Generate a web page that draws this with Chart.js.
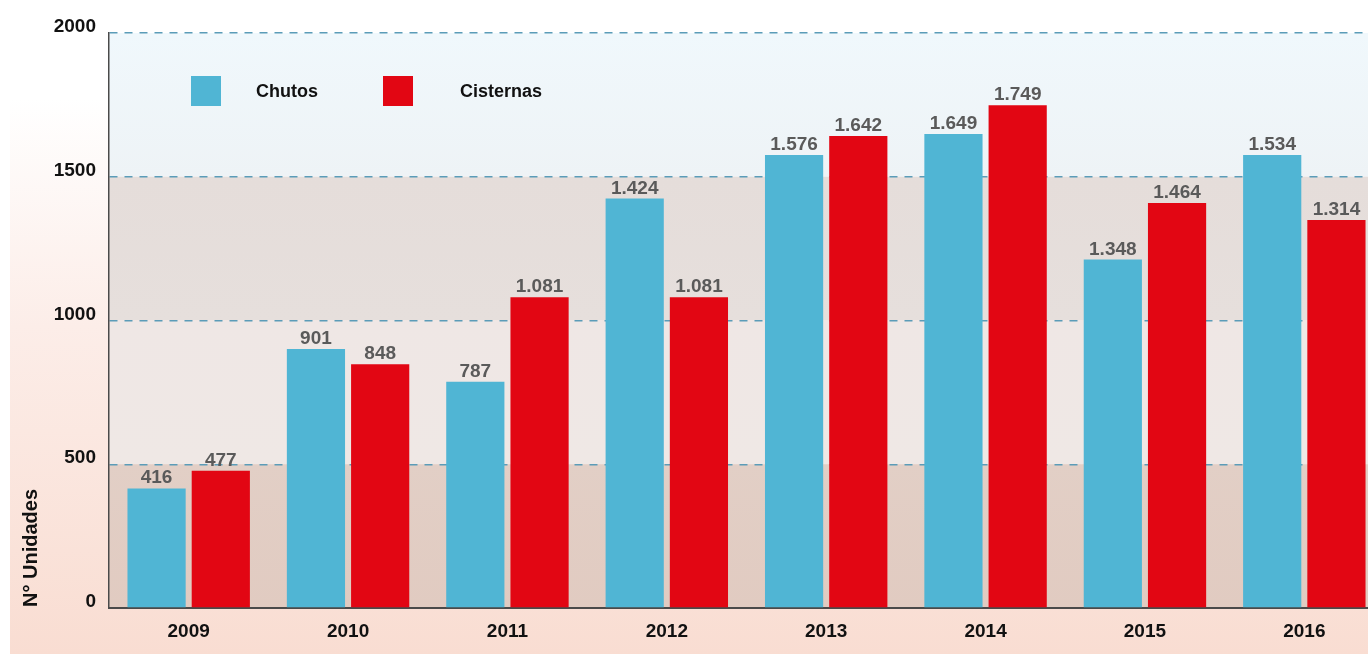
<!DOCTYPE html>
<html>
<head>
<meta charset="utf-8">
<script src="https://cdn.jsdelivr.net/npm/chart.js@4.4.1/dist/chart.umd.min.js"></script>
<style>
  html, body { margin: 0; padding: 0; overflow: hidden; background: #ffffff; }
  #wrap { width: 1368px; height: 654px; overflow: hidden; }
  canvas { display: block; }
</style>
</head>
<body>
<div id="wrap"><canvas id="units_chart" width="1384" height="654"></canvas></div>
<script>
// data
const years        = ["2009", "2010", "2011", "2012", "2013", "2014", "2015", "2016"];
const chutos       = [416, 901, 787, 1424, 1576, 1649, 1212, 1576];
const cisternas    = [477, 848, 1081, 1081, 1642, 1749, 1409, 1350];
const chutosText   = ["416", "901", "787", "1.424", "1.576", "1.649", "1.348", "1.534"];
const cisternaText = ["477", "848", "1.081", "1.081", "1.642", "1.749", "1.464", "1.314"];
const yTicks       = [0, 500, 1000, 1500, 2000];

const FONT      = "'Liberation Sans Narrow', 'Arial Narrow', 'Liberation Sans', sans-serif";
const BLUE      = "#50b5d4";
const RED       = "#e20613";
const GRID_BLUE = "#5b9cb8";

// plot bands + peach page background
const bgPlugin = {
  id: "bands",
  beforeDraw(chart) {
    const { ctx, chartArea: a, scales: { y } } = chart;
    ctx.save();
    ctx.fillStyle = "#ffffff";
    ctx.fillRect(0, 0, chart.width, chart.height);
    const g = ctx.createLinearGradient(0, 0, 0, chart.height);
    g.addColorStop(0, "#ffffff");
    g.addColorStop(0.15, "#ffffff");
    g.addColorStop(0.5, "#fcede8");
    g.addColorStop(1, "#f9ddd2");
    ctx.fillStyle = g;
    ctx.fillRect(10, 0, chart.width - 10, chart.height);

    const bands = [
      [2000, 1500, "#f0f8fc", "#eef3f6"],
      [1500, 1000, "#e5ddda", "#e6dfdc"],
      [1000, 500,  "#efe7e5", "#efe8e5"],
      [500, 0,     "#e2cfc6", "#e1cbc1"],
    ];
    bands.forEach(([hi, lo, c1, c2]) => {
      const y1 = y.getPixelForValue(hi), y2 = y.getPixelForValue(lo);
      const bg = ctx.createLinearGradient(0, y1, 0, y2);
      bg.addColorStop(0, c1);
      bg.addColorStop(1, c2);
      ctx.fillStyle = bg;
      ctx.fillRect(a.left, y1, a.right - a.left, y2 - y1);
    });
    ctx.restore();
  },
};

// value labels, legend and rotated axis title
const textPlugin = {
  id: "texts",
  afterDatasetsDraw(chart) {
    const { ctx } = chart;
    ctx.save();
    ctx.font = `bold 19px ${FONT}`;
    ctx.fillStyle = "#5a5a5a";
    ctx.textAlign = "center";
    ctx.textBaseline = "alphabetic";
    [chutosText, cisternaText].forEach((texts, di) => {
      chart.getDatasetMeta(di).data.forEach((bar, i) => {
        ctx.fillText(texts[i], bar.x, bar.y - 5);
      });
    });

    // legend
    const items = [
      { box: 191, text: 256 },
      { box: 383, text: 460 },
    ];
    chart.data.datasets.forEach((ds, i) => {
      ctx.fillStyle = ds.backgroundColor;
      ctx.fillRect(items[i].box, 76, 30, 30);
      ctx.fillStyle = "#111111";
      ctx.textAlign = "left";
      ctx.textBaseline = "middle";
      ctx.font = `bold 18px ${FONT}`;
      ctx.fillText(ds.label, items[i].text, 92);
    });

    ctx.translate(31, 548);
    ctx.rotate(-Math.PI / 2);
    ctx.textAlign = "center";
    ctx.textBaseline = "middle";
    ctx.font = `bold 20px ${FONT}`;
    ctx.fillStyle = "#111111";
    ctx.fillText("N° Unidades", 0, 0);
    ctx.restore();
  },
};

new Chart(document.getElementById("units_chart"), {
  type: "bar",
  data: {
    labels: years,
    datasets: [
      { label: "Chutos",    data: chutos,    backgroundColor: BLUE, borderWidth: 0, barPercentage: 0.906, categoryPercentage: 0.806 },
      { label: "Cisternas", data: cisternas, backgroundColor: RED,  borderWidth: 0, barPercentage: 0.906, categoryPercentage: 0.806 },
    ],
  },
  options: {
    responsive: false,
    animation: false,
    layout: { padding: { left: 0, top: 33, right: 0, bottom: 0 } },
    plugins: { legend: { display: false }, tooltip: { enabled: false } },
    scales: {
      x: {
        afterFit: (s) => { s.height = 46; },
        grid: { display: false },
        border: { display: true, color: "#4a4a4a", width: 2 },
        ticks: { color: "#111111", font: { family: FONT, weight: "bold", size: 19 }, padding: 4 },
      },
      y: {
        min: 0,
        max: 2000,
        afterFit: (s) => { s.width = 109; },
        afterBuildTicks: (s) => { s.ticks = yTicks.map((v) => ({ value: v })); },
        border: { display: true, color: "#4a4a4a", width: 1.5, dash: [8, 7] },
        grid: {
          drawTicks: false,
          color: (c) => (c.tick && c.tick.value === 0 ? "rgba(0,0,0,0)" : GRID_BLUE),
          lineWidth: 1.5,
        },
        ticks: {
          color: "#111111",
          font: { family: FONT, weight: "bold", size: 19 },
          padding: 13,
          labelOffset: -6,
          callback: (v) => String(v),
        },
      },
    },
  },
  plugins: [bgPlugin, textPlugin],
});
</script>
</body>
</html>
